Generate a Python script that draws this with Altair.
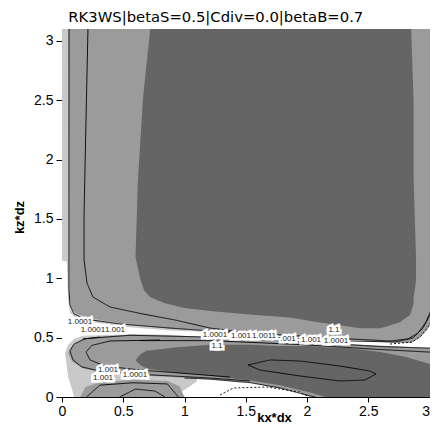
import altair as alt
import pandas as pd

TITLE = "RK3WS|betaS=0.5|Cdiv=0.0|betaB=0.7"
X_TITLE = "kx*dx"
Y_TITLE = "kz*dz"
X_TICKS = [0, 0.5, 1, 1.5, 2, 2.5, 3]
Y_TICKS = [0, 0.5, 1, 1.5, 2, 2.5, 3]
X_MAX = 3.004
Y_MAX = 3.1

# ---- filled level regions ----
# upper dark region: for each kz, kx range
dark_up_kz = [3.10, 2.50, 1.83, 1.18, 0.99, 0.90, 0.84, 0.79, 0.75, 0.72, 0.69, 0.67, 0.63, 0.61, 0.58]
dark_up_left = [0.72, 0.66, 0.62, 0.60, 0.64, 0.67, 0.72, 0.84, 1.00, 1.25, 1.58, 1.86, 2.09, 2.23, 2.43]
dark_up_right = [2.85, 2.87, 2.87, 2.89, 2.89, 2.88, 2.87, 2.87, 2.86, 2.85, 2.84, 2.81, 2.76, 2.70, 2.60]

# light band at the left edge (kx, upper kz; lower kz = 0)
light_left_kx = [0, 0.057, 0.065, 0.08, 0.12, 0.25, 0.53, 0.88, 1.2]
light_left_top = [3.1, 3.1, 0.84, 0.74, 0.70, 0.66, 0.61, 0.575, 0.56]

# white region (kx, upper kz; lower kz = 0)
white_kx = [0, 0.04, 0.05, 0.065, 0.11, 0.25, 0.53, 0.88, 1.21, 1.54, 1.94, 2.35, 2.76, 2.85, 2.92, 2.98, 3.02, 3.06]
white_top = [1.15, 1.14, 0.82, 0.71, 0.67, 0.63, 0.59, 0.56, 0.548, 0.531, 0.505, 0.48, 0.455, 0.455, 0.497, 0.564, 0.632, 0.708]

# light ring around lower-left band
light_low_kx = [0.025, 0.05, 0.1, 0.17, 0.31, 0.56, 0.88, 1.0, 1.1]
light_low_top = [0.37, 0.44, 0.49, 0.515, 0.52, 0.53, 0.525, 0.515, 0.505]
light_low_bot = [0.37, 0.17, 0.0, 0.0, 0.0, 0.0, 0.0, 0.06, 0.13]

# mid grey lower band (C shape)
mid_low_kx = [0.049, 0.082, 0.17, 0.31, 0.56, 0.88, 1.21, 1.54, 1.78, 1.94, 2.02, 2.07, 2.35, 2.76, 3.06]
mid_low_top = [0.37, 0.43, 0.49, 0.51, 0.525, 0.515, 0.505, 0.49, 0.48, 0.47, 0.465, 0.46, 0.445, 0.425, 0.41]
mid_low_bot = [0.37, 0.30, 0.24, 0.21, 0.185, 0.168, 0.15, 0.12, 0.076, 0.04, 0.008, 0.0, 0.0, 0.0, 0.0]

# lower dark band
dark_low_kx = [0.60, 0.64, 0.69, 0.94, 1.21, 1.54, 1.78, 2.02, 2.15, 2.35, 2.6, 2.8, 3.06]
dark_low_top = [0.31, 0.36, 0.39, 0.42, 0.44, 0.44, 0.43, 0.43, 0.42, 0.41, 0.38, 0.34, 0.26]
dark_low_bot = [0.31, 0.27, 0.24, 0.20, 0.18, 0.14, 0.10, 0.04, 0.0, 0.0, 0.0, 0.0, 0.0]

# bottom blob (mid grey)
blob_kx = [0.15, 0.19, 0.31, 0.58, 0.86, 0.96, 1.0]
blob_top = [0.0, 0.085, 0.125, 0.145, 0.135, 0.09, 0.0]

# ---- contour lines ----
c1_kx = [0.057, 0.057, 0.057, 0.065, 0.098, 0.188, 0.473, 0.882, 1.208, 1.616]
c1_kz = [3.1, 1.66, 0.90, 0.775, 0.70, 0.657, 0.615, 0.581, 0.556, 0.531]
c2_kx = [0.212, 0.196, 0.180, 0.180, 0.204, 0.253, 0.392, 0.661, 0.922, 1.208, 1.535]
c2_kz = [3.1, 2.334, 1.533, 1.154, 0.960, 0.842, 0.758, 0.699, 0.649, 0.581, 0.539]
s1_kx = [1.208, 1.616, 1.943, 2.351, 2.678, 2.824, 2.906, 2.971, 3.020, 3.053]
s1_kz = [0.556, 0.531, 0.514, 0.489, 0.472, 0.489, 0.539, 0.632, 0.750, 0.902]
s2_kx = [1.535, 2.351, 2.718, 2.865, 2.947, 3.004, 3.045, 3.061]
s2_kz = [0.514, 0.472, 0.463, 0.497, 0.581, 0.691, 0.817, 0.902]
s4_kx = [0.171, 0.555, 1.208, 1.943, 2.596, 3.061]
s4_kz = [0.49, 0.52, 0.505, 0.465, 0.425, 0.41]
s5_kx = [0.637, 1.208, 1.943, 2.596, 3.061]
s5_kz = [0.475, 0.475, 0.442, 0.40, 0.375]
cb1_kx = [0.310, 0.188, 0.098, 0.065, 0.090, 0.163, 0.310, 0.580, 0.898, 1.208, 1.535]
cb1_kz = [0.505, 0.49, 0.446, 0.388, 0.312, 0.253, 0.219, 0.194, 0.177, 0.160, 0.135]
cb2_kx = [0.800, 0.392, 0.245, 0.196, 0.229, 0.351, 0.637, 0.963, 1.371]
cb2_kz = [0.48, 0.472, 0.435, 0.379, 0.312, 0.261, 0.227, 0.202, 0.168]
ell_kx = [1.518, 1.698, 1.943, 2.269, 2.514, 2.563, 2.473, 2.269, 1.943, 1.616, 1.518]
ell_kz = [0.270, 0.312, 0.303, 0.261, 0.219, 0.194, 0.143, 0.135, 0.177, 0.227, 0.270]
bw_kx = [1.0, 1.21, 1.54, 1.78, 2.02, 2.07]
bw_kz = [0.16, 0.15, 0.12, 0.076, 0.01, 0.0]
arc_kx = [0.47, 0.60, 0.76, 0.84]
arc_kz = [0.0, 0.067, 0.05, 0.0]
arc2_kx = [0.2, 0.31, 0.58, 0.86, 0.95]
arc2_kz = [0.0, 0.10, 0.12, 0.11, 0.0]
# dashed contours
s3_kx = [2.678, 2.857, 2.931, 2.988, 3.029, 3.061]
s3_kz = [0.446, 0.463, 0.514, 0.590, 0.666, 0.716]
d1_kx = [1.29, 1.40, 1.67, 1.94, 2.02]
d1_kz = [0.017, 0.076, 0.084, 0.042, 0.0]

# ---- contour labels ----
lab_text = ["1.0001", "1.0001", "1.001", "1.001", "1.0001", "1.001", "1.0001", "1.001",
            "1.0011", ".001", "1.001", "1.0001", "1.1", "1.1"]
lab_kx = [0.147, 0.253, 0.433, 0.376, 0.596, 0.335, 1.249, 1.461, 1.649, 1.845, 2.033, 2.237, 2.220, 1.265]
lab_kz = [0.632, 0.564, 0.564, 0.227, 0.185, 0.160, 0.522, 0.514, 0.514, 0.489, 0.480, 0.472, 0.564, 0.430]

DARK = "#656565"
MID = "#9b9b9b"
LIGHT = "#c9c9c9"
WHITE = "#ffffff"

xs = alt.Scale(domain=[0, X_MAX], nice=False, zero=False)
ys = alt.Scale(domain=[0, Y_MAX], nice=False, zero=False)

x_axis = alt.Axis(values=X_TICKS, title=X_TITLE, format="~g", grid=False, tickSize=5,
                  labelPadding=2, labelFont="Liberation Sans", labelFontSize=14, labelColor="black",
                  labelAlign=alt.ExprRef("datum.value >= 3 ? 'right' : 'center'"),
                  tickColor="black", domainColor="black", labelFlush=False,
                  titleFont="Liberation Sans", titleFontSize=13, titleFontWeight="bold",
                  titleColor="black", titleX=212, titleY=24, titleBaseline="alphabetic")
y_axis = alt.Axis(values=Y_TICKS, title=Y_TITLE, format="~g", grid=False, tickSize=6,
                  labelPadding=3, labelFont="Liberation Sans", labelFontSize=14, labelColor="black",
                  tickColor="black", domainColor="black", labelFlush=False,
                  titleFont="Liberation Sans", titleFontSize=13, titleFontWeight="bold",
                  titleColor="black", titleX=-39, titleY=188, titleBaseline="alphabetic")


def X(field):
    return alt.X(field, scale=xs, axis=x_axis, title=X_TITLE)


def Y(field):
    return alt.Y(field, scale=ys, axis=y_axis, title=Y_TITLE)


frame = pd.DataFrame({"x0": [0], "x1": [X_MAX], "y0": [0], "y1": [Y_MAX]})
layer_bg = alt.Chart(frame).mark_rect(color=MID).encode(
    x=X("x0:Q"), x2="x1:Q", y=Y("y0:Q"), y2="y1:Q")

dark_up = pd.DataFrame({"kz": dark_up_kz, "left": dark_up_left, "right": dark_up_right})
layer_dark_up = alt.Chart(dark_up).mark_area(orient="horizontal", color=DARK, clip=True).encode(
    y=Y("kz:Q"), x=X("left:Q"), x2="right:Q",
)


def vband(kx, top, bot, color):
    df = pd.DataFrame({"kx": kx, "top": top, "bot": bot})
    return alt.Chart(df).mark_area(color=color, clip=True).encode(
        x=X("kx:Q"), y=Y("top:Q"), y2="bot:Q",
    )


layers = [
    layer_bg,
    layer_dark_up,
    vband(light_left_kx, light_left_top, [0] * len(light_left_kx), LIGHT),
    vband(white_kx, white_top, [0] * len(white_kx), WHITE),
    vband(light_low_kx, light_low_top, light_low_bot, LIGHT),
    vband(mid_low_kx, mid_low_top, mid_low_bot, MID),
    vband(dark_low_kx, dark_low_top, dark_low_bot, DARK),
    vband(blob_kx, blob_top, [0] * len(blob_kx), MID),
]

solid = [(c1_kx, c1_kz), (c2_kx, c2_kz), (s1_kx, s1_kz), (s2_kx, s2_kz), (s4_kx, s4_kz),
         (s5_kx, s5_kz), (cb1_kx, cb1_kz), (cb2_kx, cb2_kz), (ell_kx, ell_kz), (bw_kx, bw_kz),
         (arc_kx, arc_kz), (arc2_kx, arc2_kz)]
dashed = [(s3_kx, s3_kz), (d1_kx, d1_kz)]


def lines_df(groups):
    rows = []
    for gi, (xs_, zs_) in enumerate(groups):
        for i, (a, b) in enumerate(zip(xs_, zs_)):
            rows.append({"g": gi, "i": i, "kx": a, "kz": b})
    return pd.DataFrame(rows)


for groups, dash in [(solid, [1, 0]), (dashed, [2, 2])]:
    layers.append(
        alt.Chart(lines_df(groups)).mark_line(color="black", strokeWidth=0.9, strokeDash=dash, clip=True).encode(
            x=X("kx:Q"), y=Y("kz:Q"), detail="g:N", order="i:Q",
        )
    )

labels = pd.DataFrame({"t": lab_text, "kx": lab_kx, "kz": lab_kz})
layers.append(
    alt.Chart(labels).mark_text(font="Liberation Sans", fontSize=8, stroke="white", strokeWidth=5,
                                 strokeJoin="miter", fill="white").encode(
        x=X("kx:Q"), y=Y("kz:Q"), text="t:N")
)
layers.append(
    alt.Chart(labels).mark_text(font="Liberation Sans", fontSize=8, color="#222222").encode(
        x=X("kx:Q"), y=Y("kz:Q"), text="t:N")
)

chart = alt.layer(*layers).properties(
    width=368,
    height=368,
    autosize=alt.AutoSizeParams(type="none"),
    padding={"left": 54, "top": 21, "right": 0, "bottom": 26},
    title=alt.TitleParams(TITLE, font="DejaVu Sans", fontSize=14.8, fontWeight="normal",
                          color="black", anchor="middle", frame="bounds", dx=-6),
).configure_view(stroke="black", strokeWidth=1)

chart.save("out.html", embed_options={"renderer": "svg", "actions": False})
